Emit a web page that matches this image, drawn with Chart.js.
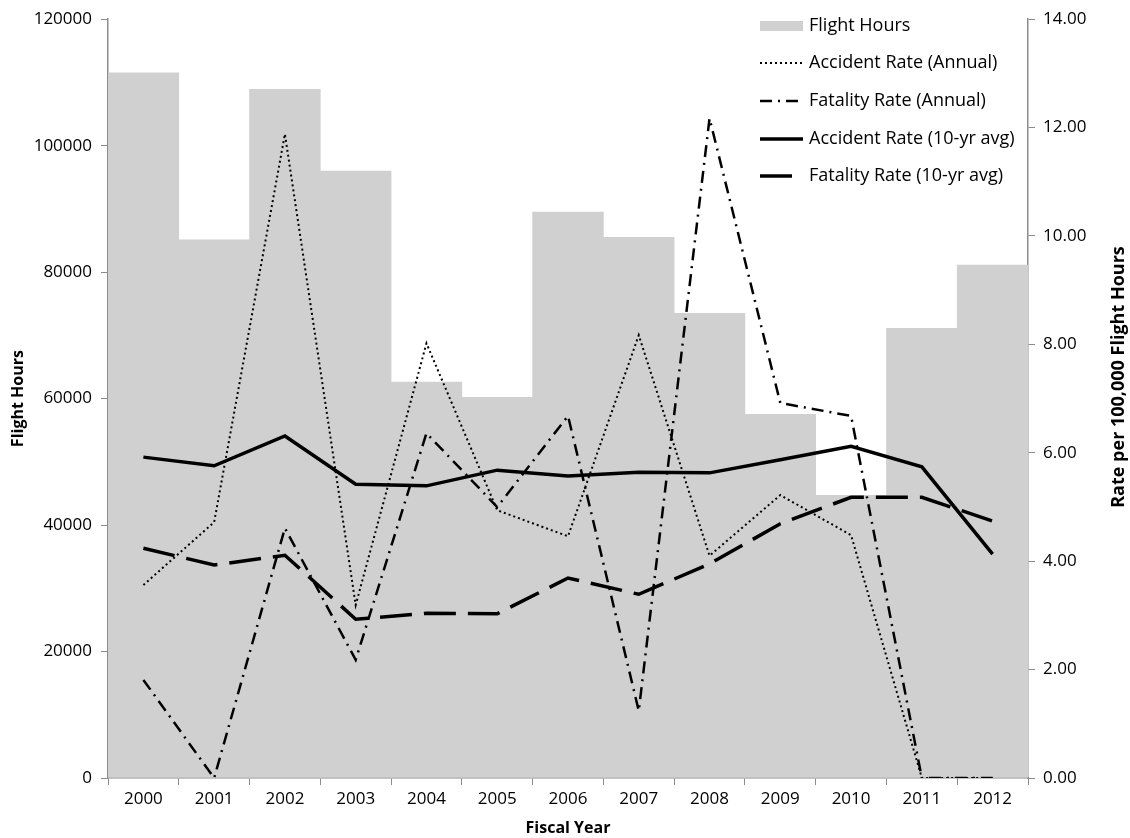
<!DOCTYPE html>
<html>
<head>
<meta charset="utf-8">
<script src="https://cdn.jsdelivr.net/npm/chart.js@4"></script>
<style>
  html, body { margin: 0; padding: 0; background: #fff; }
  #wrap { width: 1130px; height: 838px; }
</style>
</head>
<body>
<div id="wrap"><canvas id="chart" width="1130" height="838"></canvas></div>
<script>
// Chart values
const years = ['2000', '2001', '2002', '2003', '2004', '2005', '2006',
  '2007', '2008', '2009', '2010', '2011', '2012'];
const flightHours = [111500, 85100, 108900, 96000, 62600, 60200, 89500,
  85500, 73500, 57500, 44700, 71100, 81100];
const accidentAnnual = [3.56, 4.72, 11.88, 3.19, 8.02, 4.94, 4.46,
  8.17, 4.10, 5.22, 4.48, 0, 0];
const fatalityAnnual = [1.81, 0, 4.61, 2.18, 6.36, 5.00, 6.68,
  1.24, 12.17, 6.92, 6.68, 0, 0];
const accidentAvg = [5.92, 5.76, 6.31, 5.42, 5.39, 5.68, 5.57,
  5.64, 5.63, 5.87, 6.12, 5.74, 4.13];
const fatalityAvg = [4.24, 3.93, 4.11, 2.93, 3.04, 3.03, 3.69,
  3.39, 3.95, 4.69, 5.18, 5.18, 4.74];

const FONT = '"Open Sans", "Liberation Sans", sans-serif';
const axisGray = '#8c8c8c';

Chart.defaults.font.family = FONT;
Chart.defaults.font.size = 17;
Chart.defaults.color = '#000';

// Legend drawn inside the plot area, top right
const innerLegend = {
  id: 'innerLegend',
  afterDraw(chart) {
    const ctx = chart.ctx;
    const x0 = 760, x1 = 803, tx = 809;
    const rows = [26, 63, 101, 139, 176];
    ctx.save();
    ctx.font = '18px ' + FONT;
    ctx.textBaseline = 'middle';
    chart.data.datasets.forEach((ds, i) => {
      const y = rows[i];
      if (ds.type === 'bar') {
        ctx.fillStyle = ds.backgroundColor;
        ctx.fillRect(x0, y - 5, x1 - x0, 10);
      } else {
        ctx.strokeStyle = ds.borderColor;
        ctx.lineWidth = ds.borderWidth;
        ctx.setLineDash(ds.borderDash || []);
        ctx.beginPath();
        ctx.moveTo(x0, y);
        ctx.lineTo(x1, y);
        ctx.stroke();
        ctx.setLineDash([]);
      }
      ctx.fillStyle = '#000';
      ctx.fillText(ds.label, tx, y);
    });
    // right axis title, reading bottom to top
    ctx.font = 'bold 18px ' + FONT;
    ctx.textAlign = 'center';
    ctx.translate(1119, 377);
    ctx.rotate(-Math.PI / 2);
    ctx.fillText('Rate per 100,000 Flight Hours', 0, 0);
    ctx.restore();
  }
};

const ctx = document.getElementById('chart').getContext('2d');

new Chart(ctx, {
  data: {
    labels: years,
    datasets: [
      {
        type: 'bar',
        label: 'Flight Hours',
        data: flightHours,
        backgroundColor: '#d0d0d0',
        barPercentage: 1,
        categoryPercentage: 1,
        yAxisID: 'y',
        order: 10,
      },
      {
        type: 'line',
        label: 'Accident Rate (Annual)',
        data: accidentAnnual,
        borderColor: '#000',
        borderWidth: 2,
        borderDash: [2, 3],
        pointRadius: 0,
        tension: 0,
        yAxisID: 'y1',
        order: 1,
      },
      {
        type: 'line',
        label: 'Fatality Rate (Annual)',
        data: fatalityAnnual,
        borderColor: '#000',
        borderWidth: 2.5,
        borderDash: [12, 6, 2, 6],
        pointRadius: 0,
        tension: 0,
        yAxisID: 'y1',
        order: 1,
      },
      {
        type: 'line',
        label: 'Accident Rate (10-yr avg)',
        data: accidentAvg,
        borderColor: '#000',
        borderWidth: 3.5,
        pointRadius: 0,
        tension: 0,
        yAxisID: 'y1',
        order: 1,
      },
      {
        type: 'line',
        label: 'Fatality Rate (10-yr avg)',
        data: fatalityAvg,
        borderColor: '#000',
        borderWidth: 3.5,
        borderDash: [32, 12],
        pointRadius: 0,
        tension: 0,
        yAxisID: 'y1',
        order: 1,
      },
    ],
  },
  options: {
    responsive: false,
    animation: false,
    layout: { padding: { top: 19, left: 0, right: 0, bottom: 0 } },
    plugins: {
      legend: { display: false },
      tooltip: { enabled: false },
    },
    scales: {
      x: {
        offset: true,
        grid: {
          offset: true,
          drawOnChartArea: false,
          color: axisGray,
          tickLength: 7,
        },
        border: { color: axisGray, width: 1.5 },
        ticks: { padding: 4, maxRotation: 0 },
        title: {
          display: true,
          text: 'Fiscal Year',
          font: { weight: 'bold', size: 16 },
          padding: { top: 0, bottom: 0 },
        },
        afterFit(scale) { scale.height = 60; },
      },
      y: {
        position: 'left',
        min: 0,
        max: 120000,
        ticks: {
          stepSize: 20000,
          padding: 9,
          callback: (v) => String(v),
        },
        grid: {
          drawOnChartArea: false,
          color: axisGray,
          tickLength: 7,
        },
        border: { color: axisGray, width: 1.5 },
        title: {
          display: true,
          text: 'Flight Hours',
          font: { weight: 'bold', size: 16 },
          padding: { top: 9, bottom: 2 },
        },
        afterFit(scale) { scale.width = 108; },
      },
      y1: {
        position: 'right',
        min: 0,
        max: 14,
        ticks: {
          stepSize: 2,
          padding: 8,
          callback: (v) => v.toFixed(2),
        },
        grid: {
          drawOnChartArea: false,
          color: axisGray,
          tickLength: 7,
        },
        border: { color: axisGray, width: 1.5 },
        afterFit(scale) { scale.width = 102; },
      },
    },
  },
  plugins: [innerLegend],
});
</script>
</body>
</html>
